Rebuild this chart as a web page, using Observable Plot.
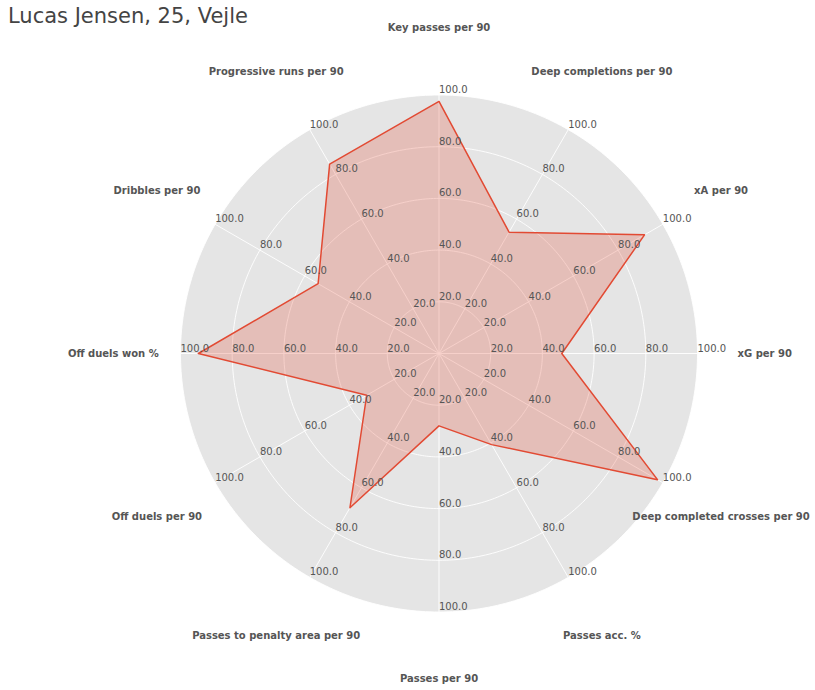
<!DOCTYPE html>
<html>
<head>
<meta charset="utf-8">
<script src="https://cdn.jsdelivr.net/npm/d3@7"></script>
<script src="https://cdn.jsdelivr.net/npm/@observablehq/plot@0.6"></script>
<style>
  html, body { margin: 0; padding: 0; background: #fff; }
  #wrap { position: relative; width: 815px; height: 690px; }
  #title { position: absolute; left: 8px; top: 3px; font-family: "DejaVu Sans", sans-serif; font-size: 21px; line-height: 26px; color: #444; }
  svg { display: block; }
</style>
</head>
<body>
<div id="wrap">
  <div id="title">Lucas Jensen, 25, Vejle</div>
</div>
<script>
const title = "Lucas Jensen, 25, Vejle";
const categories = [
  "Key passes per 90",
  "Deep completions per 90",
  "xA per 90",
  "xG per 90",
  "Deep completed crosses per 90",
  "Passes acc. %",
  "Passes per 90",
  "Passes to penalty area per 90",
  "Off duels per 90",
  "Off duels won %",
  "Dribbles per 90",
  "Progressive runs per 90"
];
const values = [97.5, 54.2, 91.8, 47.5, 97.6, 40.7, 28.0, 68.9, 32.3, 93.1, 54.0, 84.6];
const tickValues = [20, 40, 60, 80, 100];
const tickLabels = ["20.0", "40.0", "60.0", "80.0", "100.0"];
const maxValue = 100;

document.getElementById("title").textContent = title;

const n = categories.length;
// angle in radians, starting at top, clockwise
const ang = i => Math.PI / 2 - i * 2 * Math.PI / n;
const px = (r, a) => r * Math.cos(a);
const py = (r, a) => r * Math.sin(a);

// polygon
const poly = values.map((v, i) => ({x: px(v, ang(i)), y: py(v, ang(i))}));
poly.push(poly[0]);

// rings
const ringPts = [];
for (const t of tickValues) {
  for (let k = 0; k <= 360; k++) {
    const a = k * Math.PI / 180;
    ringPts.push({ring: t, x: px(t, a), y: py(t, a)});
  }
}
const disk = ringPts.filter(d => d.ring === maxValue);

// spokes
const spokes = categories.map((c, i) => ({x1: 0, y1: 0, x2: px(maxValue, ang(i)), y2: py(maxValue, ang(i))}));

// tick labels on each axis
const tickData = [];
categories.forEach((c, i) => {
  tickValues.forEach((t, j) => tickData.push({x: px(t, ang(i)), y: py(t, ang(i)), label: tickLabels[j]}));
});

// category labels
const labelR = 126;
const catData = categories.map((c, i) => ({x: px(labelR, ang(i)), y: py(labelR, ang(i)), label: c}));

const k = 2.585; // px per unit
const cx = 438.5, cy = 353;
const W = 815, H = 690;

const chart = Plot.plot({
  width: W,
  height: H,
  margin: 0,
  x: {domain: [-cx / k, (W - cx) / k], axis: null},
  y: {domain: [-(H - cy) / k, cy / k], axis: null},
  style: {fontFamily: "DejaVu Sans, sans-serif", background: "#fff"},
  marks: [
    Plot.line(disk, {x: "x", y: "y", fill: "#E5E5E5", stroke: "none"}),
    Plot.line(ringPts, {x: "x", y: "y", z: "ring", stroke: "#fff", strokeWidth: 0.9}),
    Plot.link(spokes, {x1: "x1", y1: "y1", x2: "x2", y2: "y2", stroke: "#fff", strokeWidth: 0.9}),
    Plot.line(poly, {x: "x", y: "y", fill: "#E24A33", fillOpacity: 0.25, stroke: "#E24A33", strokeWidth: 1.5, curve: "linear-closed"}),
    Plot.text(tickData, {x: "x", y: "y", text: "label", textAnchor: "start", lineAnchor: "bottom", dy: -2, fontSize: 10, fill: "#555"}),
    Plot.text(catData, {x: "x", y: "y", text: "label", textAnchor: "middle", lineAnchor: "middle", fontSize: 10, fontWeight: "bold", fill: "#555"})
  ]
});
document.getElementById("wrap").appendChild(chart);
</script>
</body>
</html>
